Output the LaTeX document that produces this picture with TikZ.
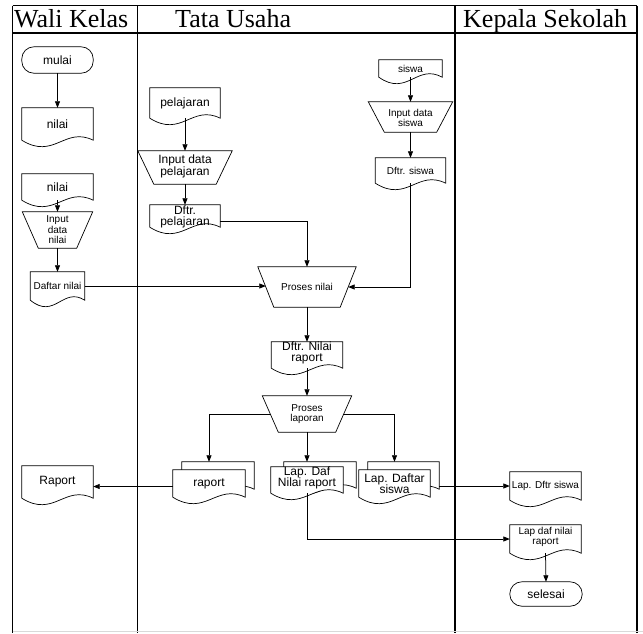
\documentclass[tikz,border=0pt]{standalone}
\usepackage{fontspec}
\setmainfont{Liberation Sans}
\newfontfamily\hdrfont{Liberation Serif}
\usetikzlibrary{arrows.meta,calc}
\pgfdeclarelayer{bg}
\pgfsetlayers{bg,main}
\tikzset{
  lane/.style={draw=black, line width=1.4pt},
  box/.style 2 args={draw=none, inner sep=0pt, minimum width=#1pt, minimum height=#2pt},
  outl/.style={draw=black, line width=0.7pt, fill=white},
  arr/.style={draw=black, line width=0.75pt, -{Triangle[length=6.5pt,width=5pt]}},
  small/.style={inner sep=0pt, align=center, font=\fontsize{10}{10.5}\selectfont},
  med/.style={inner sep=0pt, align=center, font=\fontsize{12}{11.5}\selectfont},
  hdr/.style={font=\hdrfont\fontsize{26}{28}\selectfont, anchor=base west, inner sep=0pt},
}
\newcommand\docout[1]{%
  \path[outl] let \p1=(#1.south west), \p2=(#1.south east), \n1={\x2-\x1} in
    (#1.north west) -- (#1.north east) -- (#1.south east)
    .. controls +(-0.4*\n1, 14pt) and +(0.45*\n1, -20pt) .. (#1.south west) -- cycle;}
\newcommand\trapout[1]{%
  \path[outl] (#1.north west) -- (#1.north east) -- ([xshift=-16pt]#1.south east)
    -- ([xshift=16pt]#1.south west) -- cycle;
  \coordinate (#1-l) at ([xshift=8pt]#1.west);
  \coordinate (#1-r) at ([xshift=-8pt]#1.east);}
\newcommand\termout[1]{%
  \path[outl, rounded corners=12pt] (#1.north west) rectangle (#1.south east);}
\begin{document}
\begin{tikzpicture}[x=1pt, y=-1pt]
\useasboundingbox (0,0) rectangle (643,633);

% ---------- lane headers ----------
\node[hdr] (hwali) at (14,27) {Wali Kelas};
\node[hdr] (htata) at (175,27) {Tata Usaha};
\node[hdr] (hkep) at (463,27) {Kepala Sekolah};

% ---------- shape nodes ----------
% Wali Kelas
\node[box={71}{26}] (mulai) at (57.5,60) {};
\node[box={71}{32}] (nilaiA) at (57.5,124) {};
\node[box={71}{26}] (nilaiB) at (57.5,187) {};
\node[box={70}{36}] (inpnilai) at (57.5,230) {};
\node[box={54}{28}] (dnilai) at (57.5,286) {};
\node[box={71}{32}] (rapW) at (57.5,482) {};
% Tata Usaha
\node[box={70}{30}] (pel) at (185,103) {};
\node[box={94}{33}] (inppel) at (185,167.5) {};
\node[box={70}{22}] (dpel) at (185,216) {};
\node[box={63}{17}] (siswa) at (410.5,68.5) {};
\node[box={84}{30}] (inpsis) at (410.5,117) {};
\node[box={70}{25}] (dsis) at (410.5,170.5) {};
\node[box={98}{40}] (pnilai) at (307,287) {};
\node[box={71}{26}] (dnr) at (307,355) {};
\node[box={89}{36}] (plap) at (307,414) {};
\node[box={72}{27}] (rapB) at (218,475.5) {};
\node[box={72}{27}] (rapF) at (209,483.5) {};
\node[box={72}{26}] (ldafB) at (320,475) {};
\node[box={72}{26}] (ldafF) at (307,480) {};
\node[box={71}{27}] (ldsB) at (403.5,475.5) {};
\node[box={71}{27}] (ldsF) at (394.5,483.5) {};
% Kepala Sekolah
\node[box={71}{28}] (ldftr) at (545.5,486) {};
\node[box={71}{28}] (ldnr) at (545.5,539) {};
\node[box={72}{24}] (selesai) at (546,594) {};

% ---------- outlines (background layer) ----------
\begin{pgfonlayer}{bg}
  % lanes
  \draw[lane] (12.5,5.5) -- (637,5.5);
  \draw[lane] (12.5,33) -- (637,33);
  \draw[lane] (12.5,5.5) -- (12.5,633);
  \draw[lane] (137.5,5.5) -- (137.5,633);
  \draw[lane] (455,5.5) -- (455,633);
  \draw[lane] (637,5.5) -- (637,633);
  \draw[black!15, line width=0.8pt] (12.5,631.5) -- (643,631.5);
  % shapes
  \termout{mulai}
  \docout{nilaiA}
  \docout{nilaiB}
  \trapout{inpnilai}
  \docout{dnilai}
  \docout{rapW}
  \docout{pel}
  \trapout{inppel}
  \docout{dpel}
  \docout{siswa}
  \trapout{inpsis}
  \docout{dsis}
  \trapout{pnilai}
  \docout{dnr}
  \trapout{plap}
  \docout{rapB}
  \docout{rapF}
  \docout{ldafB}
  \docout{ldafF}
  \docout{ldsB}
  \docout{ldsF}
  \docout{ldftr}
  \docout{ldnr}
  \termout{selesai}
\end{pgfonlayer}

% ---------- texts ----------
\node[med] (mulai-t) at (mulai) {mulai};
\node[med] (nilaiA-t) at (nilaiA) {nilai};
\node[med] (nilaiB-t) at (nilaiB) {nilai};
\node[small] (inpnilai-t) at (inpnilai) {Input\\data\\nilai};
\node[small] (dnilai-t) at (dnilai) {Daftar nilai};
\node[med] (rapW-t) at (rapW) {Raport};
\node[med] (pel-t) at (pel) {pelajaran};
\node[med] (inppel-t) at ([yshift=1pt]inppel.center) {Input data\\pelajaran};
\node[med] (dpel-t) at ([yshift=-1pt]dpel.center) {Dftr.\\pelajaran};
\node[small] (siswa-t) at (siswa) {siswa};
\node[small] (inpsis-t) at ([yshift=-1pt]inpsis.center) {Input data\\siswa};
\node[small] (dsis-t) at (dsis) {Dftr. siswa};
\node[small] (pnilai-t) at (pnilai) {Proses nilai};
\node[med] (dnr-t) at ([yshift=2pt]dnr.center) {Dftr. Nilai\\raport};
\node[small] (plap-t) at (plap) {Proses\\laporan};
\node[med] (rapF-t) at (rapF) {raport};
\node[med] (ldafF-t) at ([yshift=2pt]ldafF.center) {Lap. Daf\\Nilai raport};
\node[med] (ldsF-t) at (ldsF) {Lap. Daftar\\siswa};
\node[small] (ldftr-t) at (ldftr) {Lap. Dftr siswa};
\node[small] (ldnr-t) at ([yshift=2pt]ldnr.center) {Lap daf nilai\\raport};
\node[med] (selesai-t) at (selesai) {selesai};

% ---------- connectors ----------
\draw[arr] (mulai.south) -- (nilaiA.north);
\draw[arr] (nilaiB.south) -- (inpnilai.north);
\draw[arr] (inpnilai.south) -- (dnilai.north);
\draw[arr] (dnilai.east) -- (dnilai.east -| pnilai-l);
\draw[arr] (pel.south) -- (inppel.north);
\draw[arr] (inppel.south) -- (dpel.north);
\draw[arr] ([yshift=-5pt]dpel.east) -| (pnilai.north);
\draw[arr] (siswa.south) -- (inpsis.north);
\draw[arr] (inpsis.south) -- (dsis.north);
\draw[arr] (dsis.south) |- (pnilai-r);
\draw[arr] (pnilai.south) -- (dnr.north);
\draw[arr] (dnr.south) -- (plap.north);
\draw[arr] (plap-l) -| (rapF.north |- rapB.north);
\draw[arr] (plap.south) -- (ldafF.north |- ldafB.north);
\draw[arr] (plap-r) -| (ldsF.north |- ldsB.north);
\draw[arr] ([yshift=-3pt]rapF.west) -- ([yshift=-3pt]rapF.west -| rapW.east);
\draw[arr] (ldsB.east |- ldftr.west) -- (ldftr.west);
\draw[arr] (ldafF.south) |- (ldnr.west);
\draw[arr] (ldnr.south) -- (selesai.north);
\end{tikzpicture}
\end{document}
